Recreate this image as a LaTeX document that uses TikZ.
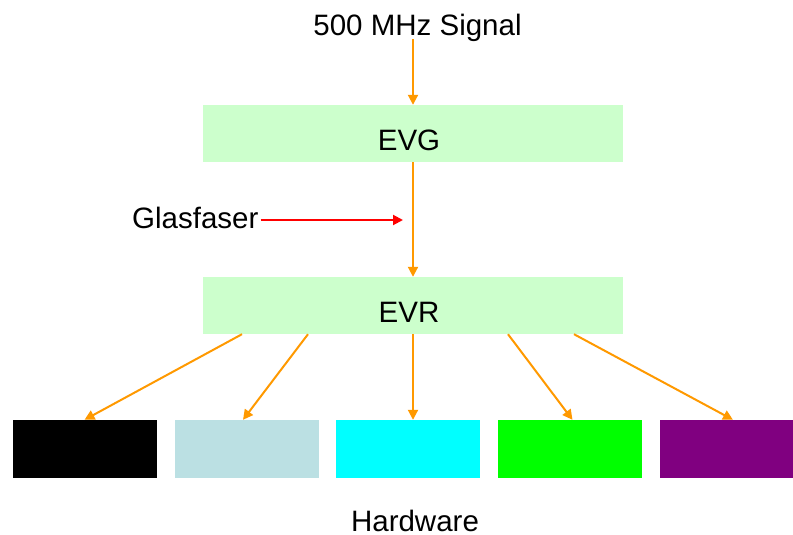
\documentclass[tikz,border=0pt]{standalone}
\usepackage{fontspec}
\setmainfont{Liberation Sans}
\usetikzlibrary{arrows.meta}
\definecolor{boxgreen}{HTML}{CCFFCC}
\definecolor{hwblue}{HTML}{BBE0E3}
\definecolor{hwcyan}{HTML}{00FFFF}
\definecolor{hwgreen}{HTML}{00FF00}
\definecolor{hwpurple}{HTML}{800080}
\definecolor{arrorange}{HTML}{FF9900}
\definecolor{arrred}{HTML}{FF0000}
\begin{document}
\begin{tikzpicture}[x=1pt,y=-1pt,
  font=\fontsize{29.5}{34}\selectfont,
  mainbox/.style={rectangle,fill=boxgreen,minimum width=420pt,minimum height=57pt,inner sep=0pt,text height=33pt,text depth=0pt},
  hwbox/.style={rectangle,minimum width=144pt,minimum height=58pt,inner sep=0pt},
  lbl/.style={inner sep=0pt,anchor=base,text depth=0pt},
  oarrow/.style={draw=arrorange,line width=2pt,-{Triangle[length=10pt,width=10pt]}},
  rarrow/.style={draw=arrred,line width=2pt,-{Triangle[length=10pt,width=10pt]}}]
\useasboundingbox (0,0) rectangle (793,535);
\node[lbl] (sig) at (417.5,36) {500 MHz Signal};
\node[mainbox] (evg) at (413,133.5) {\hspace*{-8pt}EVG};
\node[mainbox] (evr) at (413,305.5) {\hspace*{-8pt}EVR};
\node[lbl,anchor=base west,inner xsep=2pt] (glas) at (130,228) {Glasfaser};
\coordinate (gend) at (403,220);
\node[hwbox,fill=black] (hw1) at (84.5,449) {};
\node[hwbox,fill=hwblue] (hw2) at (246.5,449) {};
\node[hwbox,fill=hwcyan] (hw3) at (407.5,449) {};
\node[hwbox,fill=hwgreen] (hw4) at (569.5,449) {};
\node[hwbox,fill=hwpurple,minimum width=133pt] (hw5) at (726,449) {};
\node[lbl] (hw) at (415,531) {Hardware};
\draw[oarrow] (evg.north |- 0,39) -- (evg.north);
\draw[oarrow] (evg.south) -- (evr.north);
\draw[rarrow] (glas.east |- gend) -- (gend);
\draw[oarrow] ([xshift=-171pt]evr.south) -- ([xshift=0pt]hw1.north);
\draw[oarrow] ([xshift=-105pt]evr.south) -- ([xshift=-3.5pt]hw2.north);
\draw[oarrow] (evr.south) -- ([xshift=5.5pt]hw3.north);
\draw[oarrow] ([xshift=95pt]evr.south) -- ([xshift=3pt]hw4.north);
\draw[oarrow] ([xshift=161pt]evr.south) -- ([xshift=7pt]hw5.north);
\end{tikzpicture}
\end{document}
